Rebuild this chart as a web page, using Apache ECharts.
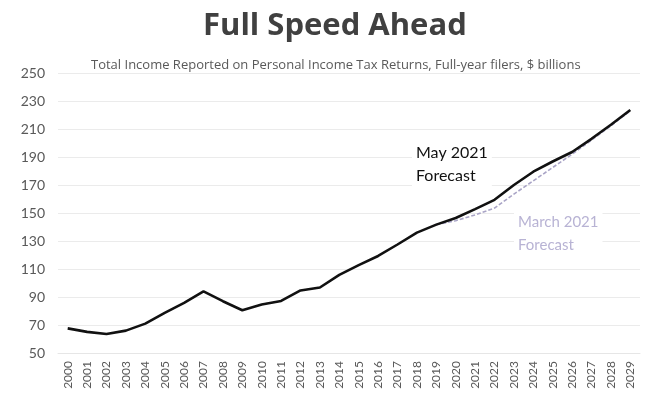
<!DOCTYPE html>
<html>
<head>
<meta charset="utf-8">
<script src="https://cdn.jsdelivr.net/npm/echarts@6/dist/echarts.min.js"></script>
<style>
  html, body { margin: 0; padding: 0; background: #ffffff; }
  #chart { width: 652px; height: 398px; }
</style>
</head>
<body>
<div id="chart"></div>
<script>
// Years on the category axis
const years = [
  '2000','2001','2002','2003','2004','2005','2006','2007','2008','2009',
  '2010','2011','2012','2013','2014','2015','2016','2017','2018','2019',
  '2020','2021','2022','2023','2024','2025','2026','2027','2028','2029'
];

// Total income, $ billions — May 2021 forecast (actuals through 2019)
const mayForecast = [
  67.6, 65.1, 63.6, 66.0, 71.0, 78.7, 85.8, 94.0, 87.0, 80.5,
  84.6, 87.2, 94.7, 96.8, 105.8, 112.8, 119.3, 127.5, 136.0, 141.7,
  146.4, 152.8, 159.4, 170.0, 179.5, 186.8, 193.6, 203.0, 213.0, 223.6
];

// March 2021 forecast, from the point where the two projections part
const marchForecast = [
  null, null, null, null, null, null, null, null, null, null,
  null, null, null, null, null, null, null, null, null, 141.7,
  144.5, 148.6, 153.5, 163.5, 173.0, 182.5, 192.0, 202.0, 212.3, 223.0
];

const yTicks = { min: 50, max: 250, step: 20 };

const chart = echarts.init(document.getElementById('chart'), null, { renderer: 'canvas' });

chart.setOption({
  backgroundColor: '#ffffff',
  animation: false,
  title: [
    {
      text: 'Full Speed Ahead',
      left: 198,
      top: 6,
      textStyle: { fontFamily: 'Open Sans', fontWeight: 'bold', fontSize: 31, color: '#404040' }
    },
    {
      text: 'Total Income Reported on Personal Income Tax Returns, Full-year filers, $ billions',
      left: 86,
      top: 54,
      textStyle: { fontFamily: 'Open Sans', fontWeight: 'normal', fontSize: 13, color: '#595959' }
    }
  ],
  grid: { left: 58, right: 12, top: 73, bottom: 45 },
  xAxis: {
    type: 'category',
    data: years,
    boundaryGap: true,
    axisLine: { show: true, lineStyle: { color: '#e6e6e6', width: 1 } },
    axisTick: { show: false },
    axisLabel: {
      rotate: 90,
      margin: 8,
      interval: 0,
      fontFamily: 'Lato',
      fontSize: 12,
      color: '#595959'
    }
  },
  yAxis: {
    type: 'value',
    min: yTicks.min,
    max: yTicks.max,
    interval: yTicks.step,
    axisLine: { show: false },
    axisTick: { show: false },
    axisLabel: { margin: 13, fontFamily: 'Lato', fontSize: 14, color: '#595959' },
    splitLine: { show: true, lineStyle: { color: '#ebebeb', width: 1 } }
  },
  series: [
    {
      name: 'March 2021 Forecast',
      type: 'line',
      data: marchForecast,
      symbol: 'none',
      z: 2,
      lineStyle: { color: '#a9a4c6', width: 1.6, type: [4, 2] }
    },
    {
      name: 'May 2021 Forecast',
      type: 'line',
      data: mayForecast,
      symbol: 'none',
      z: 3,
      lineStyle: { color: '#111111', width: 2.6 }
    }
  ],
  graphic: [
    {
      type: 'text',
      left: 412,
      top: 139,
      z: 1,
      style: {
        text: 'May 2021\nForecast',
        font: '16px Lato',
        lineHeight: 23,
        fill: '#111111',
        backgroundColor: '#ffffff',
        padding: [2, 4]
      }
    },
    {
      type: 'text',
      left: 514,
      top: 209,
      z: 1,
      style: {
        text: 'March 2021\nForecast',
        font: '15px Lato',
        lineHeight: 23,
        fill: '#b8b3d4',
        backgroundColor: '#ffffff',
        padding: [2, 4]
      }
    }
  ]
});
</script>
</body>
</html>
